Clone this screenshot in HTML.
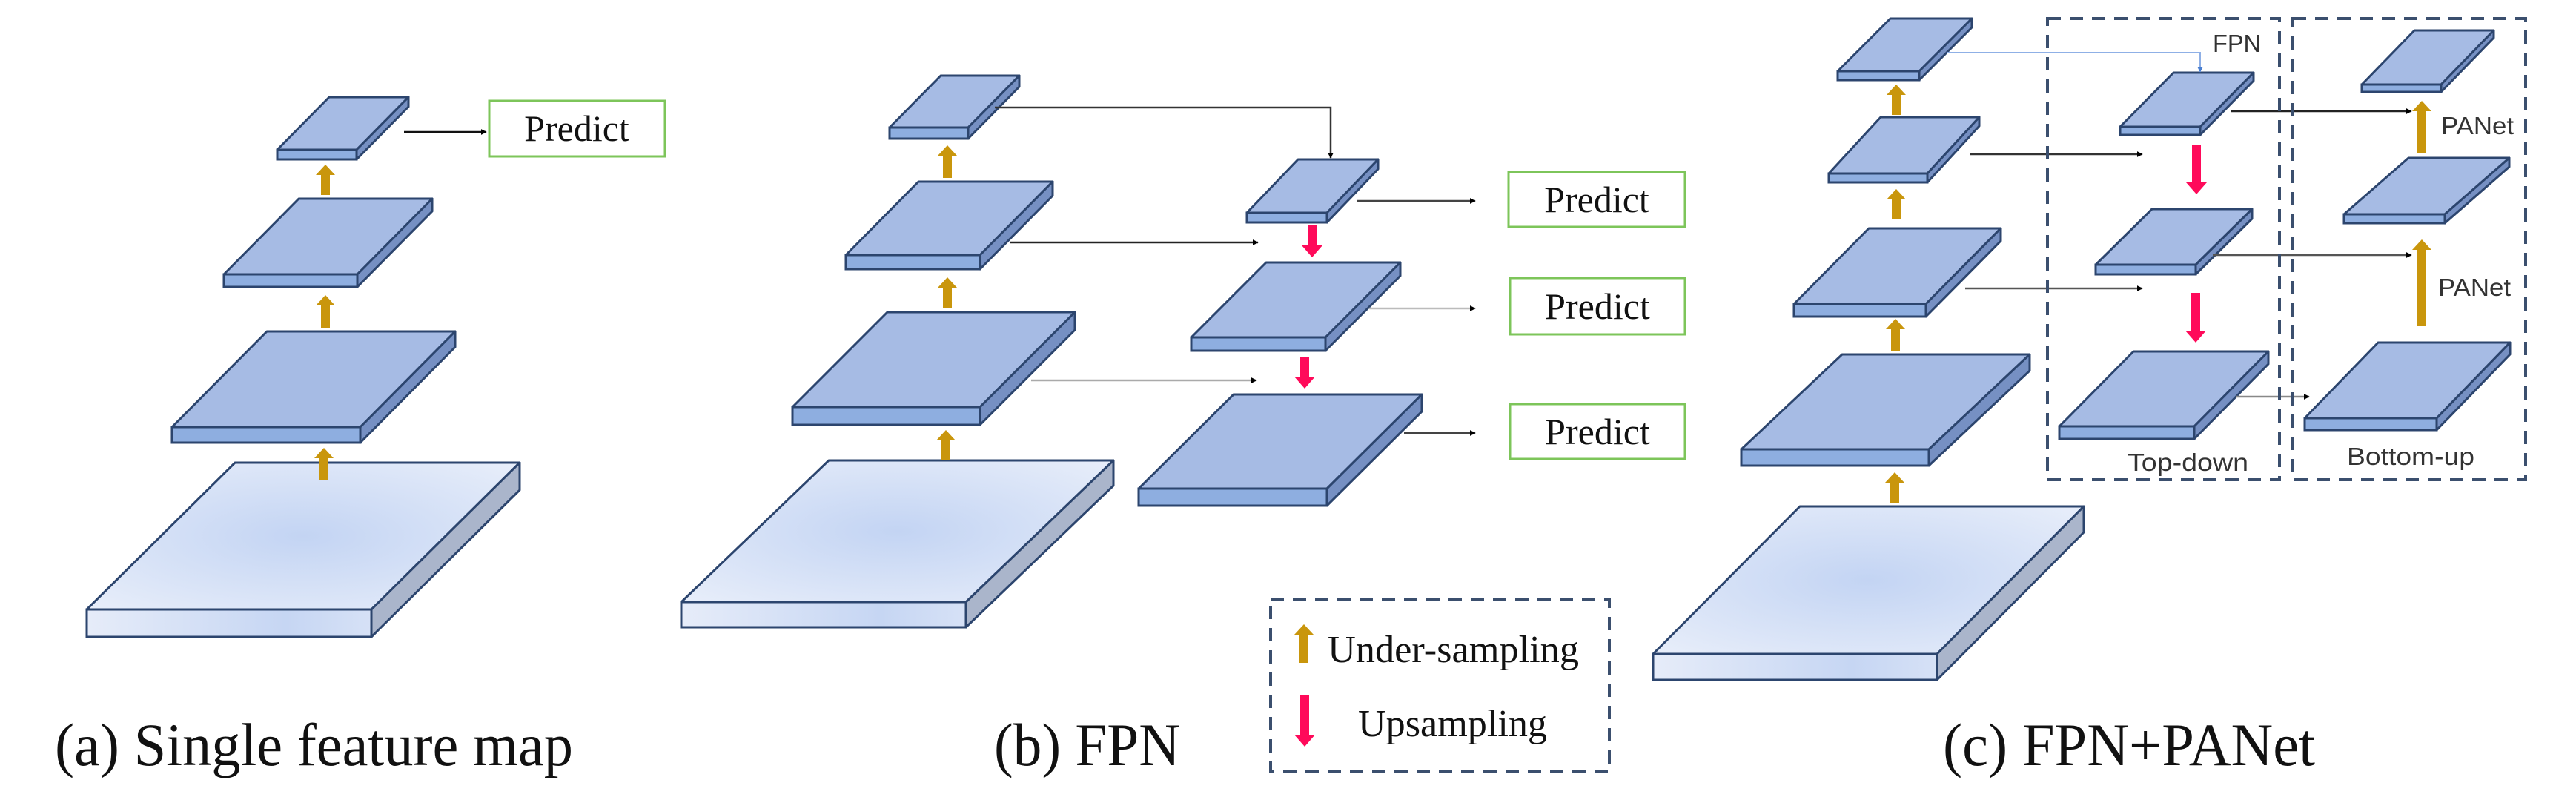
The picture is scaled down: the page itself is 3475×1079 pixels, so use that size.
<!DOCTYPE html>
<html><head><meta charset="utf-8"><style>html,body{margin:0;padding:0;background:#fff}svg{display:block}</style></head>
<body>
<svg id="s" width="3475" height="1079" viewBox="0 0 3475 1079" xmlns="http://www.w3.org/2000/svg">
<defs>
<radialGradient id="big" cx="0.5" cy="0.5" r="0.7"><stop offset="0" stop-color="#c3d4f3"/><stop offset="1" stop-color="#e8eefa"/></radialGradient>
<linearGradient id="bigf" x1="0" x2="1"><stop offset="0" stop-color="#e6ecf9"/><stop offset="0.7" stop-color="#c6d6f3"/><stop offset="1" stop-color="#d6e1f6"/></linearGradient>
<marker id="ah" viewBox="0 0 10 10" refX="9" refY="5" markerWidth="8" markerHeight="8" markerUnits="userSpaceOnUse" orient="auto"><path d="M0,0 L10,5 L0,10z" fill="#000"/></marker>
<marker id="ahb" viewBox="0 0 10 10" refX="9" refY="5" markerWidth="7" markerHeight="7" markerUnits="userSpaceOnUse" orient="auto"><path d="M0,0 L10,5 L0,10z" fill="#4a7fd0"/></marker>
</defs>
<g id="slabs"></g>
<g id="arrows"></g>
<g id="lines" fill="none"></g>
<g fill="#fff" stroke="#7dc55a" stroke-width="3">
<rect x="660" y="136" width="237" height="75"/>
<rect x="2035" y="232" width="238" height="74"/>
<rect x="2037" y="375" width="236" height="76"/>
<rect x="2037" y="545" width="236" height="74"/>
</g>
<g font-family="Liberation Serif, serif" font-size="50" fill="#111" text-anchor="middle">
<text x="778" y="190">Predict</text>
<text x="2154" y="286">Predict</text>
<text x="2155" y="430">Predict</text>
<text x="2155" y="599">Predict</text>
</g>
<g fill="none" stroke="#3b4f6e" stroke-width="4" stroke-dasharray="18,12">
<rect x="1714" y="809" width="457" height="231"/>
<rect x="2762" y="25" width="313" height="622"/>
<rect x="3093" y="25" width="314" height="622"/>
</g>
<g font-family="Liberation Serif, serif" font-size="52" fill="#111">
<text x="1791" y="893" textLength="339" lengthAdjust="spacingAndGlyphs">Under-sampling</text>
<text x="1832" y="993" textLength="255" lengthAdjust="spacingAndGlyphs">Upsampling</text>
</g>
<g font-family="Liberation Serif, serif" font-size="82" fill="#111">
<text x="74" y="1032" textLength="699" lengthAdjust="spacingAndGlyphs">(a) Single feature map</text>
<text x="1341" y="1032" textLength="251" lengthAdjust="spacingAndGlyphs">(b) FPN</text>
<text x="2621" y="1032" textLength="502" lengthAdjust="spacingAndGlyphs">(c) FPN+PANet</text>
</g>
<g font-family="Liberation Sans, sans-serif" font-size="33" fill="#333">
<text x="2985" y="70" textLength="65" lengthAdjust="spacingAndGlyphs">FPN</text>
<text x="3293" y="181" textLength="98" lengthAdjust="spacingAndGlyphs">PANet</text>
<text x="3289" y="399" textLength="98" lengthAdjust="spacingAndGlyphs">PANet</text>
<text x="2870" y="635" textLength="163" lengthAdjust="spacingAndGlyphs">Top-down</text>
<text x="3166" y="627" textLength="172" lengthAdjust="spacingAndGlyphs">Bottom-up</text>
</g>
</svg>
<script>
(function(){
var NS="http://www.w3.org/2000/svg";
function el(p,t,a){var e=document.createElementNS(NS,t);for(var k in a)e.setAttribute(k,a[k]);p.appendChild(e);return e;}
var S=document.getElementById('slabs');
var slabs=[
[374,481,202,215,131,444],[302,482,370,387,268,403],[232,486,576,597,447,360],[117,501,822,859,624,317,1],
[1200,1306,172,187,102,1269],[1141,1322,344,363,245,1239],[1069,1322,549,573,421,1197],[919,1303,812,846,621,1118,1],
[1682,1790,287,300,215,1751],[1607,1788,455,473,354,1708],[1536,1790,659,682,532,1664],
[2479,2589,96,108,25,2550],[2467,2600,234,246,158,2537],[2420,2598,410,427,308,2521],[2349,2602,606,628,478,2485],[2230,2613,882,917,683,2428,1],
[2860,2968,171,182,98,2932],[2827,2962,357,370,282,2903],[2778,2960,575,592,474,2878],
[3186,3293,114,124,41,3257],[3162,3298,289,301,213,3249],[3109,3287,564,580,462,3208]
];
slabs.forEach(function(s){
var fx1=s[0],fx2=s[1],ft=s[2],fb=s[3],ty=s[4],bx=s[5],big=s[6];
var dx=bx-fx1,t=fb-ft,st="#2c456e";
el(S,'polygon',{points:[fx1+','+ft,fx2+','+ft,(fx2+dx)+','+ty,(fx1+dx)+','+ty].join(' '),fill:big?'url(#big)':'#a6bbe4',stroke:st,'stroke-width':3,'stroke-linejoin':'round'});
el(S,'rect',{x:fx1,y:ft,width:fx2-fx1,height:t,fill:big?'url(#bigf)':'#8eaee0',stroke:st,'stroke-width':3});
el(S,'polygon',{points:[fx2+','+ft,(fx2+dx)+','+ty,(fx2+dx)+','+(ty+t),fx2+','+fb].join(' '),fill:big?'#aab5cb':'#7690c3',stroke:st,'stroke-width':3,'stroke-linejoin':'round'});
});
var A=document.getElementById('arrows');
function up(x,y1,y2,c){var h=14,w=13,sw=6;
 el(A,'polygon',{points:[x-sw,y1,x-sw,y2+h,x-w,y2+h,x,y2,x+w,y2+h,x+sw,y2+h,x+sw,y1].join(' '),fill:c});}
function down(x,y1,y2,c){var h=16,w=14,sw=6;
 el(A,'polygon',{points:[x-sw,y1,x-sw,y2-h,x-w,y2-h,x,y2,x+w,y2-h,x+sw,y2-h,x+sw,y1].join(' '),fill:c});}
var G='#c9960c',P='#ff0a5a';
up(439,263,222,G);up(439,442,398,G);up(437,647,604,G);
up(1278,240,196,G);up(1278,416,374,G);up(1276,621,580,G);
down(1770,303,347,P);down(1760,481,524,P);
up(2558,155,114,G);up(2558,296,255,G);up(2557,473,430,G);up(2556,678,637,G);
down(2963,195,262,P);down(2962,395,462,P);
up(3267,206,136,G);up(3267,440,323,G);
up(1759,894,842,G);down(1760,938,1007,P);
var L=document.getElementById('lines');
function ln(d,c,w,m){el(L,'path',{d:d,stroke:c,'stroke-width':w,fill:'none','marker-end':m||'url(#ah)'});}
ln('M545,178 L656,178','#111',2.5);
ln('M1342,145 L1795,145 L1795,213','#333',2.5);
ln('M1362,327 L1697,327','#222',2.5);
ln('M1391,513 L1695,513','#aaa',2.5);
ln('M1830,271 L1990,271','#444',2.5);
ln('M1847,416 L1990,416','#bbb',2.5);
ln('M1894,584 L1990,584','#444',2.5);
ln('M2627,71 L2968,71 L2968,97','#8fb0e6',2,'url(#ahb)');
ln('M2658,208 L2890,208','#333',2.5);
ln('M2651,389 L2890,389','#555',2.5);
ln('M3009,150 L3253,150','#222',2.5);
ln('M2985,344 L3253,344','#555',2.5);
ln('M3017,535 L3115,535','#888',2.5);
})();
</script>
</body></html>
